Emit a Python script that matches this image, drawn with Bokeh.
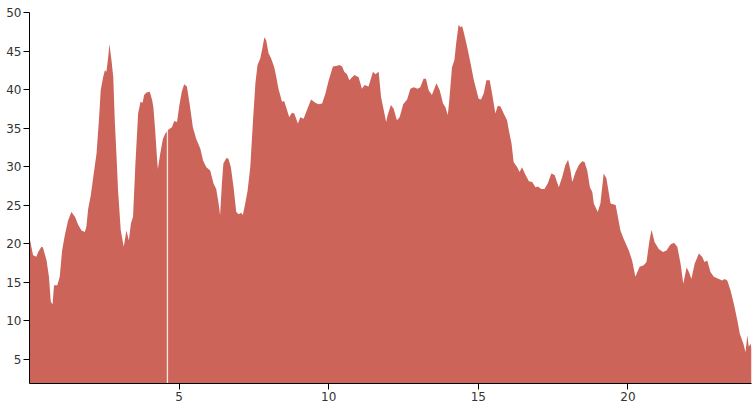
import numpy as np
from bokeh.plotting import figure
from bokeh.models import Range1d, FixedTicker
from bokeh.embed import file_html
from bokeh.resources import INLINE

hours = [0.00, 0.12, 0.23, 0.29, 0.40, 0.45, 0.57, 0.65, 0.71, 0.77, 0.82, 0.93, 1.01, 1.09, 1.18, 1.29,
         1.40, 1.52, 1.63, 1.74, 1.85, 1.90, 1.96, 2.05, 2.13, 2.24, 2.32, 2.38, 2.46, 2.52, 2.57, 2.63,
         2.67, 2.74, 2.80, 2.85, 2.91, 2.96, 3.05, 3.15, 3.24, 3.32, 3.39, 3.46, 3.54, 3.63, 3.71, 3.78,
         3.83, 3.91, 4.02, 4.10, 4.14, 4.20, 4.26, 4.29, 4.37, 4.46, 4.54, 4.65, 4.76, 4.84, 4.93, 5.01,
         5.09, 5.17, 5.26, 5.35, 5.46, 5.57, 5.71, 5.80, 5.91, 6.04, 6.15, 6.24, 6.32, 6.37, 6.43, 6.48,
         6.58, 6.65, 6.73, 6.82, 6.91, 6.99, 7.07, 7.13, 7.21, 7.29, 7.38, 7.47, 7.55, 7.62, 7.71, 7.77,
         7.85, 7.91, 7.99, 8.07, 8.18, 8.25, 8.32, 8.44, 8.51, 8.61, 8.68, 8.77, 8.85, 8.97, 9.05, 9.16,
         9.27, 9.41, 9.55, 9.66, 9.78, 9.89, 10.00, 10.14, 10.28, 10.36, 10.45, 10.52, 10.61, 10.69, 10.78,
         10.86, 11.00, 11.11, 11.20, 11.33, 11.48, 11.56, 11.67, 11.75, 11.84, 11.92, 11.97, 12.08, 12.17,
         12.28, 12.37, 12.49, 12.62, 12.73, 12.84, 12.97, 13.06, 13.17, 13.25, 13.34, 13.45, 13.60, 13.71,
         13.82, 13.90, 13.98, 14.03, 14.12, 14.20, 14.26, 14.34, 14.40, 14.46, 14.51, 14.63, 14.74, 14.85,
         15.01, 15.09, 15.18, 15.27, 15.38, 15.46, 15.57, 15.65, 15.74, 15.85, 15.96, 16.02, 16.11, 16.18,
         16.30, 16.38, 16.46, 16.58, 16.69, 16.80, 16.91, 16.99, 17.10, 17.21, 17.32, 17.44, 17.55, 17.69,
         17.80, 17.91, 18.00, 18.08, 18.14, 18.25, 18.36, 18.47, 18.55, 18.64, 18.73, 18.81, 18.86, 18.99,
         19.08, 19.19, 19.28, 19.42, 19.59, 19.75, 19.86, 20.03, 20.14, 20.25, 20.39, 20.53, 20.62, 20.72,
         20.79, 20.89, 21.03, 21.17, 21.29, 21.42, 21.54, 21.65, 21.76, 21.85, 21.96, 22.04, 22.12, 22.23,
         22.37, 22.48, 22.56, 22.65, 22.76, 22.87, 23.04, 23.15, 23.23, 23.32, 23.43, 23.54, 23.66, 23.74,
         23.86, 23.93, 23.99, 24.04, 24.10, 24.13]

values = [20.8, 18.5, 18.3, 18.9, 19.6, 19.5, 17.8, 15.7, 12.5, 12.1, 14.6, 14.6, 15.7, 19.1, 21.1, 23.0,
          24.1, 23.5, 22.4, 21.7, 21.5, 22.2, 24.5, 26.3, 28.6, 31.7, 36.0, 39.9, 41.6, 42.5, 42.3, 44.2,
          45.9, 43.8, 41.6, 36.0, 31.2, 26.9, 21.7, 19.6, 21.7, 20.4, 22.6, 23.5, 30.4, 36.9, 38.4, 38.3,
          39.3, 39.6, 39.7, 38.6, 37.7, 34.7, 31.2, 29.7, 31.7, 33.6, 34.3, 34.8, 35.1, 35.9, 35.8, 38.0,
          39.7, 40.7, 40.4, 38.2, 35.1, 33.6, 32.3, 30.8, 29.9, 29.5, 27.8, 27.1, 25.2, 23.7, 27.8, 30.4,
          31.1, 31.0, 29.9, 27.3, 24.1, 23.8, 24.0, 23.7, 25.2, 26.9, 30.0, 36.0, 40.8, 43.2, 44.0, 45.1,
          46.8, 46.4, 44.7, 44.1, 42.9, 41.6, 40.1, 38.4, 38.5, 37.3, 36.4, 37.0, 36.9, 35.6, 36.4, 36.2,
          37.3, 38.7, 38.3, 38.1, 38.2, 39.5, 41.2, 43.0, 43.1, 43.2, 43.0, 42.3, 42.0, 41.2, 41.6,
          41.9, 41.6, 40.1, 40.6, 40.4, 42.3, 42.0, 42.3, 39.0, 37.3, 35.8, 36.7, 38.0, 37.5,
          36.0, 36.4, 38.1, 38.7, 40.1, 40.3, 40.1, 40.3, 41.4, 41.4, 39.9, 39.3, 40.8, 39.9,
          38.2, 37.7, 36.7, 38.6, 42.9, 43.8, 46.0, 48.4, 48.1, 48.2, 47.5, 45.5, 43.4, 41.2,
          38.8, 38.7, 39.5, 41.2, 41.2, 39.5, 36.9, 37.9, 37.8, 36.9, 36.0, 34.7, 33.0, 30.6,
          29.9, 29.3, 29.9, 28.9, 28.1, 28.0, 27.3, 27.4, 27.1, 27.1, 27.8, 29.1, 28.9, 27.3,
          28.6, 30.2, 30.9, 29.5, 28.0, 29.3, 30.2, 30.7, 30.6, 29.5, 27.3, 26.7, 25.2, 24.1,
          25.2, 29.1, 28.5, 25.2, 25.0, 21.7, 20.6, 19.1, 17.8, 15.7, 17.0, 17.2, 17.6, 20.4,
          21.8, 20.2, 19.3, 18.9, 19.1, 19.9, 20.1, 19.6, 17.4, 14.8, 16.9, 16.3, 15.4, 17.4,
          18.7, 18.3, 17.6, 17.8, 16.3, 15.7, 15.4, 15.2, 15.4, 15.2, 13.9, 12.2, 10.0, 8.3,
          7.0, 5.9, 8.1, 6.6, 7.0, 6.4]

x_ticks = [5, 10, 15, 20]
y_ticks = [5, 10, 15, 20, 25, 30, 35, 40, 45, 50]
marker_hour = 4.61
y_min, y_max = 1.84, 50

p = figure(width=754, height=405, output_backend="svg", toolbar_location=None,
           x_range=Range1d(0, hours[-1]), y_range=Range1d(y_min, y_max),
           min_border_left=29, min_border_right=3, min_border_top=12, min_border_bottom=22)
p.outline_line_color = None
p.xgrid.visible = False
p.ygrid.visible = False
p.background_fill_color = "white"

p.varea(x=hours, y1=0, y2=values, fill_color="#cd6459", fill_alpha=1.0)

marker_val = float(np.interp(marker_hour, hours, values))
p.segment(x0=[marker_hour], y0=[0], x1=[marker_hour], y1=[marker_val],
          line_color="#f7e6e4", line_width=1.3)

for ax in (p.xaxis[0], p.yaxis[0]):
    ax.axis_line_color = "black"
    ax.axis_line_width = 1
    ax.major_tick_line_color = "black"
    ax.major_tick_out = 6
    ax.major_tick_in = 0
    ax.minor_tick_line_color = None
    ax.major_label_text_font = "DejaVu Sans"
    ax.major_label_text_font_size = "12px"
    ax.major_label_text_color = "#333333"
    ax.major_label_standoff = 2

p.xaxis.ticker = FixedTicker(ticks=x_ticks)
p.yaxis.ticker = FixedTicker(ticks=y_ticks)

open("out.html", "w").write(file_html(p, INLINE))
